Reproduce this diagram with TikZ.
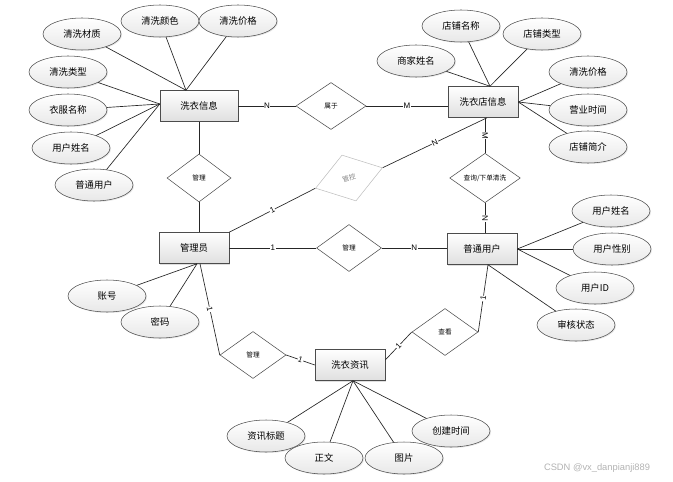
\documentclass[tikz,border=0pt]{standalone}
\usepackage{fontspec}
\setmainfont{Liberation Sans}
\newfontfamily\cjk{Noto Sans CJK SC}
\usetikzlibrary{shapes.geometric,shadows}

\begin{document}
\begin{tikzpicture}
	[x=0.75pt, y=-0.75pt, font=\cjk\fontsize{7}{8}\selectfont,
	entity/.style={draw=gray!60!black, top color=white, bottom color=gray!25, minimum width=52.5pt, minimum height=23.25pt, inner sep=0pt, drop shadow={opacity=0.25, shadow xshift=0.75pt, shadow yshift=-0.75pt}},
	attr/.style={ellipse, draw=gray!60!black, top color=white, bottom color=gray!18, minimum width=58.5pt, minimum height=24pt, inner sep=0pt, drop shadow={opacity=0.2, shadow xshift=0.75pt, shadow yshift=-0.75pt}},
	rel/.style={diamond, draw=gray!60!black, fill=white, minimum width=49.5pt, minimum height=35.25pt, inner sep=0pt, font=\cjk\fontsize{5}{6}\selectfont},
	card/.style={fill=white, inner sep=0.4pt, font=\fontsize{6}{7}\selectfont},
	link/.style={draw=gray!30!black, line width=0.5pt}]
	\useasboundingbox (0,0) rectangle (673,481);
	\node[entity, minimum width=58.5pt] (xyxx) at (199,106) {洗衣信息};
	\node[entity] (xydx) at (483,102) {洗衣店信息};
	\node[entity] (gly) at (194,248) {管理员};
	\node[entity] (ptyh) at (482,249) {普通用户};
	\node[entity] (xyzx) at (350,365) {洗衣资讯};
	\node[rel, minimum width=52.5pt] (shuyu) at (331,106) {属于};
	\node[rel, minimum width=48pt, minimum height=36pt] (gl1) at (199,178) {管理};
	\node[rel, rotate=17, draw=gray!50, text=gray, minimum width=52.5pt, minimum height=36pt] (gk) at (349,178) {管控};
	\node[rel, minimum width=53pt, minimum height=36pt] (cx) at (485,178) {查询/下单清洗};
	\node[rel, minimum width=48.75pt] (gl2) at (349,248) {管理};
	\node[rel] (gl3) at (253,355) {管理};
	\node[rel] (ck) at (445,332) {查看};
	\coordinate (xyxx-t) at ([xshift=-9.75pt]xyxx.north);
	\coordinate (xyxx-l) at ([yshift=1.5pt]xyxx.west);
	\coordinate (xydx-t) at ([xshift=5.25pt]xydx.north);
	\coordinate (xydx-r) at (xydx.east);
	\coordinate (ptyh-r) at (ptyh.east);
	\coordinate (ptyh-b) at ([xshift=4.5pt]ptyh.south);
	\coordinate (gly-b) at ([xshift=2.25pt]gly.south);
	\coordinate (xyzx-b) at ([xshift=2.25pt]xyzx.south);
	\foreach \nm/\x/\y/\txt/\tgt in {
		a1/82/34/清洗材质/xyxx-t, a2/160/21/清洗颜色/xyxx-t, a3/238/21/清洗价格/xyxx-t,
		a4/68/72/清洗类型/xyxx-l, a5/68/110/衣服名称/xyxx-l, a6/71/148/用户姓名/xyxx-l, a7/94/185/普通用户/xyxx-l,
		b1/461/26/店铺名称/xydx-t, b2/542/34/店铺类型/xydx-t, b3/416/61/商家姓名/xydx-t,
		b4/588/72/清洗价格/xydx-r, b5/588/110/营业时间/xydx-r, b6/588/147/店铺简介/xydx-r,
		c1/611/211/用户姓名/ptyh-r, c2/612/249/用户性别/ptyh-r, c3/595/288/用户ID/ptyh-r, c4/576/325/审核状态/ptyh-b,
		d1/107/296/账号/gly-b, d2/160/322/密码/gly-b,
		e1/266/436/资讯标题/xyzx-b, e2/324/458/正文/xyzx-b, e3/404/458/图片/xyzx-b, e4/451/431/创建时间/xyzx-b}
	{	\node[attr] (\nm) at (\x,\y) {\txt};
		\draw[link] (\nm) -- (\tgt);
		}
	\draw[link] (xyxx) -- node[card]{N} (shuyu);
	\draw[link] (shuyu.east) -- node[card]{M} (shuyu.east -| xydx.west);
	\draw[link] (xyxx) -- (gl1);
	\draw[link] (gl1) -- (gl1 |- gly.north);
	\draw[link] (gly.north east) -- node[card, sloped]{1} (gk.west);
	\draw[link] (gk.east) -- node[card, sloped]{N} ([xshift=3pt]xydx.south);
	\draw[link] (xydx.south -| cx) -- node[card, sloped]{M} (cx);
	\draw[link] (cx) -- node[card, sloped]{N} (cx |- ptyh.north);
	\draw[link] (gly) -- node[card]{1} (gl2);
	\draw[link] (gl2) -- node[card]{N} (gl2 -| ptyh.west);
	\draw[link] ([xshift=4.5pt]gly.south) -- node[card, sloped]{1} (gl3.west);
	\draw[link] (gl3.east) -- node[card, sloped]{1} (xyzx.west);
	\draw[link] ([yshift=3.75pt]xyzx.east) -- node[card, sloped]{1} (ck.west);
	\draw[link] (ck.east) -- node[card, sloped]{1} (ptyh-b);
	\node[text=gray!60, font=\fontsize{7}{8}\selectfont] (csdn) at (597,468) {CSDN @vx\_danpianji889};
	\end{tikzpicture}
\end{document}
